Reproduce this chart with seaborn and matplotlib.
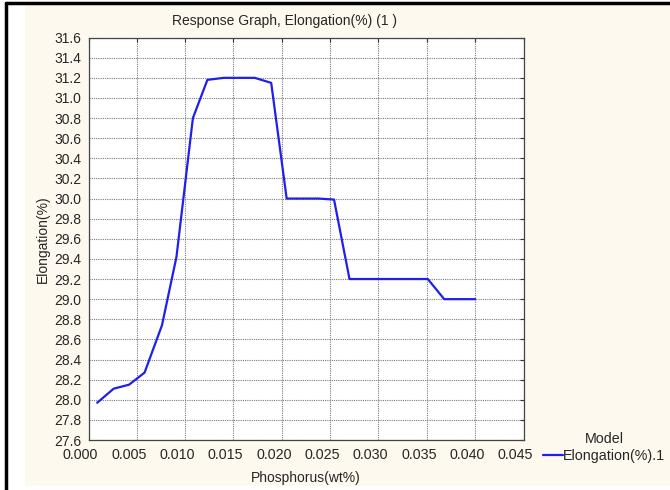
import numpy as np
import matplotlib
matplotlib.use("Agg")
import matplotlib.pyplot as plt
import matplotlib.patches as mpatches
import matplotlib.transforms as mtransforms
import seaborn as sns
import pandas as pd

# values
phosphorus = [0.0009, 0.0026, 0.0042, 0.0058, 0.0076, 0.0091, 0.0108, 0.0123,
              0.0140, 0.0156, 0.0172, 0.0189, 0.0205, 0.0221, 0.0238, 0.0254,
              0.0270, 0.0286, 0.0303, 0.0319, 0.0335, 0.0351, 0.0368, 0.0384, 0.0400]
elongation = [27.97, 28.11, 28.15, 28.27, 28.74, 29.42, 30.80, 31.18,
              31.20, 31.20, 31.20, 31.15, 30.00, 30.00, 30.00, 29.99,
              29.20, 29.20, 29.20, 29.20, 29.20, 29.20, 29.00, 29.00, 29.00]
series_name = "Elongation(%).1"
x_ticks = [0.000, 0.005, 0.010, 0.015, 0.020, 0.025, 0.030, 0.035, 0.040, 0.045]
y_ticks = [27.6, 27.8, 28.0, 28.2, 28.4, 28.6, 28.8, 29.0, 29.2, 29.4, 29.6,
           29.8, 30.0, 30.2, 30.4, 30.6, 30.8, 31.0, 31.2, 31.4, 31.6]

df = pd.DataFrame({"Phosphorus(wt%)": phosphorus,
                   "Elongation(%)": elongation,
                   "Model": [series_name] * len(phosphorus)})

sns.set_theme(style="white")
plt.rcParams['font.family'] = ['Liberation Sans', 'DejaVu Sans']
plt.rcParams['font.size'] = 10

fig = plt.figure(figsize=(6.7, 4.9), dpi=100, facecolor="white")
# cream panel and black frame lines like the screenshot
fig.patches.append(mpatches.Rectangle((25 / 670, 4 / 490), 645 / 670, 482 / 490,
                                      transform=fig.transFigure, facecolor="#fef9ee",
                                      edgecolor="none", zorder=-5))
fig.add_artist(plt.Line2D([6 / 670, 6 / 670], [0, 1 - 3 / 490], transform=fig.transFigure,
                          color="black", lw=2.5))
fig.add_artist(plt.Line2D([6 / 670, 1], [1 - 3 / 490, 1 - 3 / 490], transform=fig.transFigure,
                          color="black", lw=2.5))

ax = fig.add_axes([88.5 / 670, 1 - 440 / 490, 435 / 670, (440 - 37.6) / 490])
ax.set_zorder(2)
ax.set_facecolor("white")
sns.lineplot(data=df, x="Phosphorus(wt%)", y="Elongation(%)", hue="Model",
             palette=["#1f1fee"], linewidth=1.6, ax=ax)

ax.set_xlim(0, 0.045)
ax.set_ylim(27.6, 31.6)
ax.set_xticks(x_ticks)
ax.set_xticklabels(["{:.3f}".format(v) for v in x_ticks])
ax.set_yticks(y_ticks)
ax.set_yticklabels(["{:.1f}".format(v) for v in y_ticks])
ax.grid(True, color="#7a7a7a", linestyle=(0, (1, 1)), linewidth=0.8)
ax.tick_params(direction="in", length=3, width=0.8, color="#333333",
               top=True, right=True, labelsize=10)
ax.tick_params(axis="x", pad=6, labelsize=10.3)
ax.tick_params(axis="y", pad=5)
# the x labels sit a little left of their grid lines in the original
shift = mtransforms.ScaledTranslation(-8 / 100, 0, fig.dpi_scale_trans)
for lab in ax.get_xticklabels():
    lab.set_transform(lab.get_transform() + shift)
for s in ax.spines.values():
    s.set_color("#444444")
    s.set_linewidth(0.9)

ax.set_title("Response Graph, Elongation(%) (1 )", fontsize=10, pad=9, x=0.45)
ax.set_xlabel("Phosphorus(wt%)", fontsize=10, labelpad=6)
ax.set_ylabel("Elongation(%)", fontsize=10, labelpad=3)

sns.move_legend(ax, loc="upper left", bbox_to_anchor=(543 / 670, 1 - 432 / 490),
                bbox_transform=fig.transFigure, frameon=False, title="Model",
                fontsize=10.3, title_fontsize=10.3, handlelength=1.4, handletextpad=0.0,
                borderpad=0, borderaxespad=0, labelspacing=0.2)

fig.savefig("out.png", dpi=100, facecolor=fig.get_facecolor())
